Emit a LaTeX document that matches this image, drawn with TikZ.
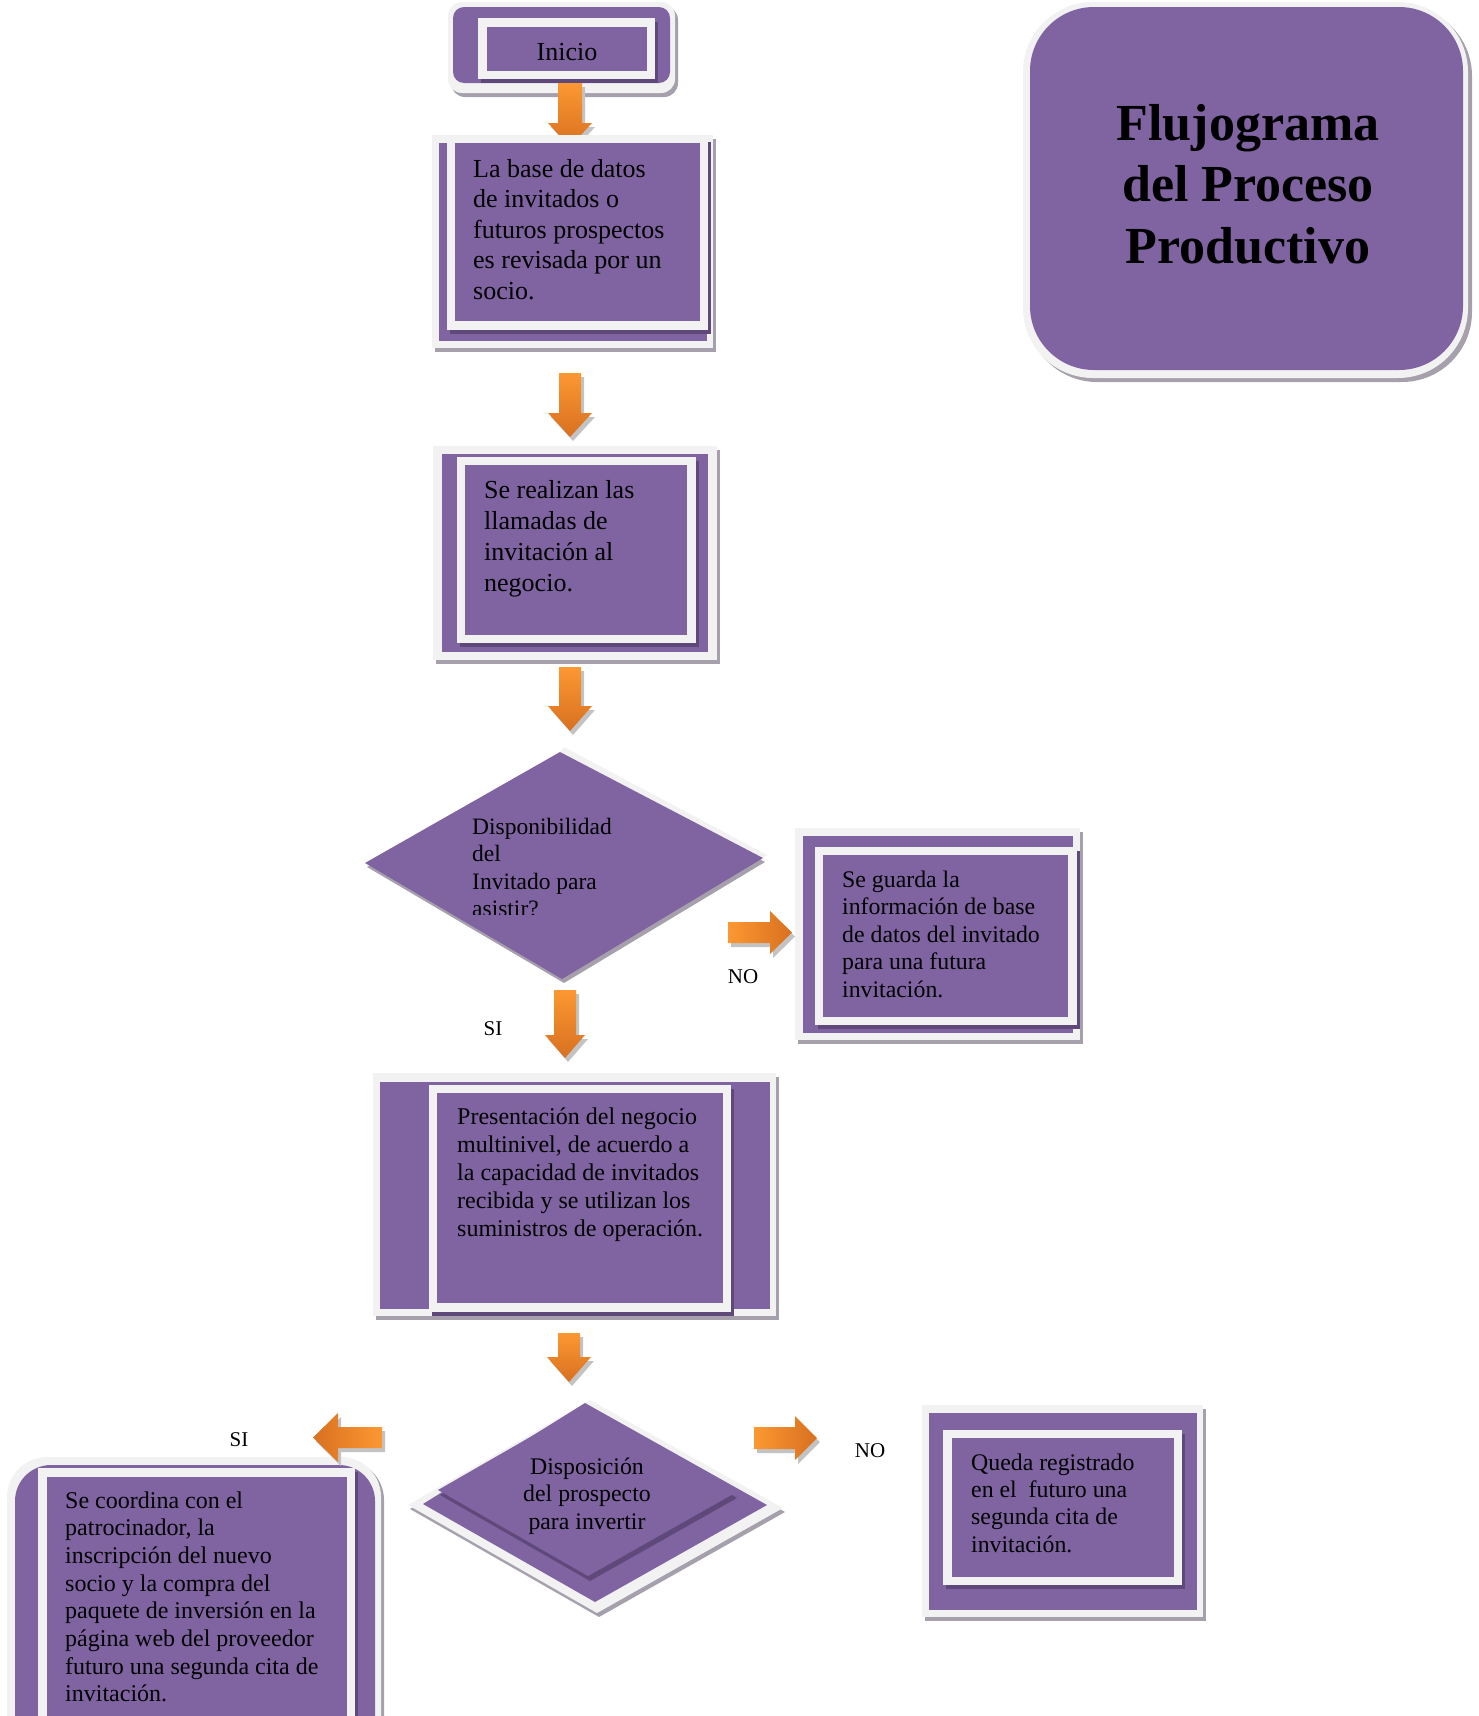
\documentclass[tikz,border=0pt]{standalone}
\usepackage{fontspec}
\setmainfont{Liberation Serif}

\definecolor{mauve}{RGB}{128,100,162}
\definecolor{deepmauve}{RGB}{95,73,122}
\definecolor{framegray}{RGB}{242,242,242}
\definecolor{shadowgray}{RGB}{165,160,172}
\definecolor{arrowshade}{RGB}{195,195,195}
\definecolor{orangelight}{RGB}{252,152,50}
\definecolor{orangedark}{RGB}{216,112,32}

% lines stacked at the current baselineskip, baseline = first line
\newcommand{\stackleft}[1]{\vtop{\halign{##\hfil\cr#1\crcr}}}
\newcommand{\stackcenter}[1]{\vtop{\halign{\hfil##\hfil\cr#1\crcr}}}

% outer frame: light border with grey drop shadow and purple face
\newcommand{\plainframe}[4]{%
  \fill[shadowgray,shift={(3,4)}] (#1) rectangle (#2);
  \fill[framegray] (#1) rectangle (#2);
  \fill[mauve] (#3) rectangle (#4);}
% inner frame: light border with dark purple shadow and purple face
\newcommand{\innerframe}[4]{%
  \fill[deepmauve,shift={(3,4)}] (#1) rectangle (#2);
  \fill[framegray] (#1) rectangle (#2);
  \fill[mauve] (#3) rectangle (#4);}

% block arrows: centre, start, head base, tip, half body width, half head width
\newcommand{\downblock}[6]{%
  \fill[arrowshade,shift={(3,4)}] ({#1-#5},#2) -- ({#1+#5},#2) -- ({#1+#5},#3) -- ({#1+#6},#3) -- (#1,#4) -- ({#1-#6},#3) -- ({#1-#5},#3) -- cycle;
  \shade[top color=orangelight,bottom color=orangedark] ({#1-#5},#2) -- ({#1+#5},#2) -- ({#1+#5},#3) -- ({#1+#6},#3) -- (#1,#4) -- ({#1-#6},#3) -- ({#1-#5},#3) -- cycle;}
\newcommand{\rightblock}[6]{%
  \fill[arrowshade,shift={(3,4)}] (#2,{#1-#5}) -- (#3,{#1-#5}) -- (#3,{#1-#6}) -- (#4,#1) -- (#3,{#1+#6}) -- (#3,{#1+#5}) -- (#2,{#1+#5}) -- cycle;
  \shade[left color=orangelight,right color=orangedark] (#2,{#1-#5}) -- (#3,{#1-#5}) -- (#3,{#1-#6}) -- (#4,#1) -- (#3,{#1+#6}) -- (#3,{#1+#5}) -- (#2,{#1+#5}) -- cycle;}
\newcommand{\leftblock}[6]{%
  \fill[arrowshade,shift={(3,4)}] (#2,{#1-#5}) -- (#3,{#1-#5}) -- (#3,{#1-#6}) -- (#4,#1) -- (#3,{#1+#6}) -- (#3,{#1+#5}) -- (#2,{#1+#5}) -- cycle;
  \shade[left color=orangedark,right color=orangelight] (#2,{#1-#5}) -- (#3,{#1-#5}) -- (#3,{#1-#6}) -- (#4,#1) -- (#3,{#1+#6}) -- (#3,{#1+#5}) -- (#2,{#1+#5}) -- cycle;}

\begin{document}
\begin{tikzpicture}[x=1pt,y=-1pt,
  txt/.style={inner sep=0pt,anchor=base west,text=black},
  ctxt/.style={inner sep=0pt,anchor=base,text=black},
  lbl/.style={inner sep=0pt,anchor=center,text=black,font=\fontsize{21}{25}\selectfont}]
\useasboundingbox (0,0) rectangle (1479,1716);
\clip (0,0) rectangle (1479,1716);

% ---- title ----
\fill[shadowgray,rounded corners=70,shift={(4,4)}] (1023,2) rectangle (1468,378);
\fill[framegray,rounded corners=70] (1023,2) rectangle (1468,378);
\fill[mauve,rounded corners=64] (1030,7) rectangle (1463,370);
\node[ctxt,font=\bfseries\fontsize{52}{61.5}\selectfont] (title) at (1248,140)
  {\stackcenter{Flujograma\cr del Proceso\cr Productivo}};

% ---- start ----
\fill[shadowgray,rounded corners=14,shift={(3,4)}] (448,2) rectangle (675,93);
\fill[framegray,rounded corners=14] (448,2) rectangle (675,93);
\fill[mauve,rounded corners=11] (453,7) rectangle (670,83);
\innerframe{478,18}{655,79}{487,27}{647,71}
\node[inner sep=0pt,font=\fontsize{26}{30}\selectfont] (inicio) at (567,52) {Inicio};

\downblock{570}{83}{123}{147}{12}{22}

% ---- database review ----
\plainframe{432,135}{713,348}{439,143}{707,341}
\innerframe{447,138}{708,330}{455,143}{700,321}
\node[txt,font=\fontsize{26}{30.5}\selectfont] (datos) at (473,177)
  {\stackleft{La base de datos\cr de invitados o\cr futuros prospectos\cr es revisada por un\cr socio.}};

% ---- calls ----
\plainframe{433,446}{717,660}{442,454}{708,652}
\innerframe{457,457}{696,643}{465,465}{687,635}
\node[txt,font=\fontsize{26}{31}\selectfont] (llamadas) at (484,498)
  {\stackleft{Se realizan las\cr llamadas de\cr invitación al\cr negocio.}};

% ---- first decision ----
\fill[shadowgray] (562,756) -- (765,862) -- (564,983) -- (367,867) -- cycle;
\fill[framegray] (560,752) -- (564,747) -- (767,855) -- (763,858) -- cycle;
\fill[mauve] (560,752) -- (763,858) -- (562,979) -- (365,863) -- cycle;
\begin{scope}
  \clip (380,780) rectangle (700,914);
  \node[txt,font=\fontsize{23.5}{27.5}\selectfont] (dispo) at (472,834)
    {\stackleft{Disponibilidad\cr del\cr Invitado para\cr asistir?}};
\end{scope}

% ---- save for later ----
\plainframe{795,828}{1080,1040}{803,836}{1073,1033}
\innerframe{815,847}{1077,1025}{823,855}{1068,1017}
\node[txt,font=\fontsize{23.8}{27.5}\selectfont] (guarda) at (842,887)
  {\stackleft{Se guarda la\cr información de base\cr de datos del invitado\cr para una futura\cr invitación.}};

% ---- presentation ----
\plainframe{373,1073}{776,1316}{380,1082}{770,1309}
\innerframe{429,1085}{731,1312}{437,1093}{723,1303}
\node[txt,font=\fontsize{24}{28}\selectfont] (present) at (457,1124)
  {\stackleft{Presentación del negocio\cr multinivel, de acuerdo a\cr la capacidad de invitados\cr recibida y se utilizan los\cr suministros de operación.}};

% ---- second decision ----
\fill[shadowgray] (592,1404) -- (785,1512) -- (599,1617) -- (410,1509) -- cycle;
\fill[framegray] (590,1400) -- (783,1508) -- (597,1613) -- (408,1505) -- cycle;
\fill[mauve] (585,1403) -- (767,1505) -- (595,1602) -- (423,1504) -- cycle;
\fill[deepmauve] (588,1410) -- (737,1498) -- (590,1581) -- (440,1495) -- cycle;
\fill[mauve] (586,1405) -- (735,1493) -- (588,1576) -- (438,1490) -- cycle;
\node[ctxt,font=\fontsize{23.8}{27.5}\selectfont] (invertir) at (587,1474)
  {\stackcenter{Disposición\cr del prospecto\cr para invertir}};

% ---- second invitation ----
\plainframe{922,1405}{1203,1617}{929,1413}{1197,1610}
\innerframe{943,1430}{1182,1585}{952,1438}{1174,1577}
\node[txt,font=\fontsize{23.8}{27.4}\selectfont] (queda) at (971,1470)
  {\stackleft{Queda registrado\cr en el~ futuro una\cr segunda cita de\cr invitación.}};

% ---- enrolment ----
\fill[shadowgray,rounded corners=40,shift={(3,3)}] (7,1457) rectangle (381,1790);
\fill[framegray,rounded corners=40] (7,1457) rectangle (381,1790);
\fill[mauve,rounded corners=36] (15,1465) rectangle (375,1780);
\innerframe{38,1468}{355,1790}{47,1477}{347,1790}
\node[txt,font=\fontsize{24}{27.7}\selectfont] (coordina) at (65,1508)
  {\stackleft{Se coordina con el\cr patrocinador, la\cr inscripción del nuevo\cr socio y la compra del\cr paquete de inversión en la\cr página web del proveedor\cr futuro una segunda cita de\cr invitación.}};

% ---- flow arrows ----
\downblock{570}{373}{413}{437}{11}{22}
\downblock{570}{667}{706}{731}{11}{22}
\downblock{565}{990}{1035}{1058}{11}{20}
\downblock{569}{1333}{1357}{1382}{11}{22}
\rightblock{932.5}{728}{770}{792}{10.5}{21.5}
\rightblock{1438}{754}{795}{817}{11}{22}
\leftblock{1437.5}{382}{338}{313}{10.5}{24.5}

% ---- branch labels ----
\node[lbl] (no1) at (743,977) {NO};
\node[lbl] (si1) at (493,1029) {SI};
\node[lbl] (no2) at (870,1451) {NO};
\node[lbl] (si2) at (239,1440) {SI};
\end{tikzpicture}
\end{document}
